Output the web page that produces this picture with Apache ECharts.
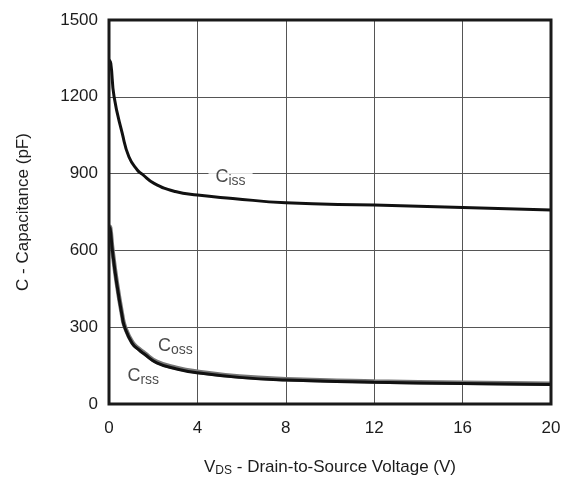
<!DOCTYPE html>
<html>
<head>
<meta charset="utf-8">
<script src="https://cdn.jsdelivr.net/npm/echarts@6/dist/echarts.min.js"></script>
<style>
  html, body { margin: 0; padding: 0; background: #fff; }
  #chart { width: 567px; height: 479px; }
</style>
</head>
<body>
<div id="chart"></div>
<script>
// Capacitance vs drain-to-source voltage
const xTicks = [0, 4, 8, 12, 16, 20];
const yTicks = [0, 300, 600, 900, 1200, 1500];

const vdsIss = [0, 0.08, 0.23, 0.6, 0.9, 1.28, 1.5, 2.04, 3.0, 4.0, 5.6, 8, 12, 16, 20];
const ciss   = [1345, 1331, 1200, 1057, 966, 914, 898, 862, 830, 816, 803, 786, 777, 768, 758];

const vdsLow = [0, 0.05, 0.15, 0.35, 0.6, 0.71, 1.05, 1.36, 1.6, 2.16, 3.06, 4, 5.9, 8, 12, 16, 20];
const crss   = [690, 686, 602, 471, 341, 300, 237, 211, 195, 161, 137, 122, 104, 94, 85, 80, 76];
const coss   = [694, 690, 606, 475, 345, 304, 241, 215, 199, 165, 141, 126, 107, 97, 88, 83, 79];

// label anchors: [V, pF, name, subscript, knock-out background]
const curveLabels = [
  [5.5, 885, 'C', 'iss', true],
  [3.0, 227, 'C', 'oss', false],
  [1.55, 108, 'C', 'rss', false]
];

const zip = (xs, ys) => xs.map((x, i) => [x, ys[i]]);
const font = '"Liberation Sans", Arial, sans-serif';
const ink = '#1c1c1c';

const chart = echarts.init(document.getElementById('chart'));
chart.setOption({
  animation: false,
  backgroundColor: '#fff',
  grid: { left: 109, right: 16, top: 20, bottom: 75, show: false,
          containLabel: false, outerBoundsMode: 'none' },
  xAxis: {
    type: 'value', min: 0, max: 20, interval: 4,
    name: '{v|V}{s|DS}{t| - Drain-to-Source Voltage (V)}',
    nameLocation: 'middle', nameGap: 53,
    nameTextStyle: {
      rich: {
        v: { fontFamily: font, fontSize: 17, color: ink },
        s: { fontFamily: font, fontSize: 12, color: ink, padding: [8, 0, 0, 0] },
        t: { fontFamily: font, fontSize: 17, color: ink }
      }
    },
    axisLine: { show: false },
    axisTick: { show: false },
    axisLabel: { fontFamily: font, fontSize: 17, color: ink, margin: 16,
                 formatter: v => String(v) },
    splitLine: { show: true, lineStyle: { color: '#555', width: 1 } }
  },
  yAxis: {
    type: 'value', min: 0, max: 1500, interval: 300,
    name: 'C - Capacitance (pF)',
    nameLocation: 'middle', nameGap: 77,
    nameTextStyle: { fontFamily: font, fontSize: 17, color: ink },
    axisLine: { show: false },
    axisTick: { show: false },
    axisLabel: { fontFamily: font, fontSize: 17, color: ink, margin: 11,
                 formatter: v => String(v) },
    splitLine: { show: true, lineStyle: { color: '#555', width: 1 } }
  },
  series: [
    {
      type: 'line', data: zip(vdsIss, ciss), showSymbol: false,
      smooth: 0.5,
      lineStyle: { color: '#111', width: 3 }, z: 3
    },
    {
      type: 'line', data: zip(vdsLow, coss), showSymbol: false,
      smooth: 0.5,
      lineStyle: { color: '#777', width: 4.5 }, z: 2
    },
    {
      type: 'line', data: zip(vdsLow, crss), showSymbol: false,
      smooth: 0.5,
      lineStyle: { color: '#111', width: 3 }, z: 3
    },
    {
      type: 'scatter', symbolSize: 0, z: 5,
      data: curveLabels.map(d => ({
        value: [d[0], d[1]], name: d[2], sub: d[3],
        label: { backgroundColor: d[4] ? '#fff' : 'transparent' }
      })),
      label: {
        show: true, position: 'inside',
        padding: [2, 7, 2, 7],
        formatter: p => '{c|' + p.data.name + '}{s|' + p.data.sub + '}',
        rich: {
          c: { fontFamily: font, fontSize: 18, color: ink },
          s: { fontFamily: font, fontSize: 14, color: ink, padding: [8, 0, 0, 0] }
        }
      },
      silent: true
    }
  ],
  graphic: [
    {
      type: 'rect', z: 10,
      shape: { x: 109, y: 20, width: 442, height: 384 },
      style: { fill: 'none', stroke: '#1a1a1a', lineWidth: 3 }
    }
  ]
});
</script>
</body>
</html>
